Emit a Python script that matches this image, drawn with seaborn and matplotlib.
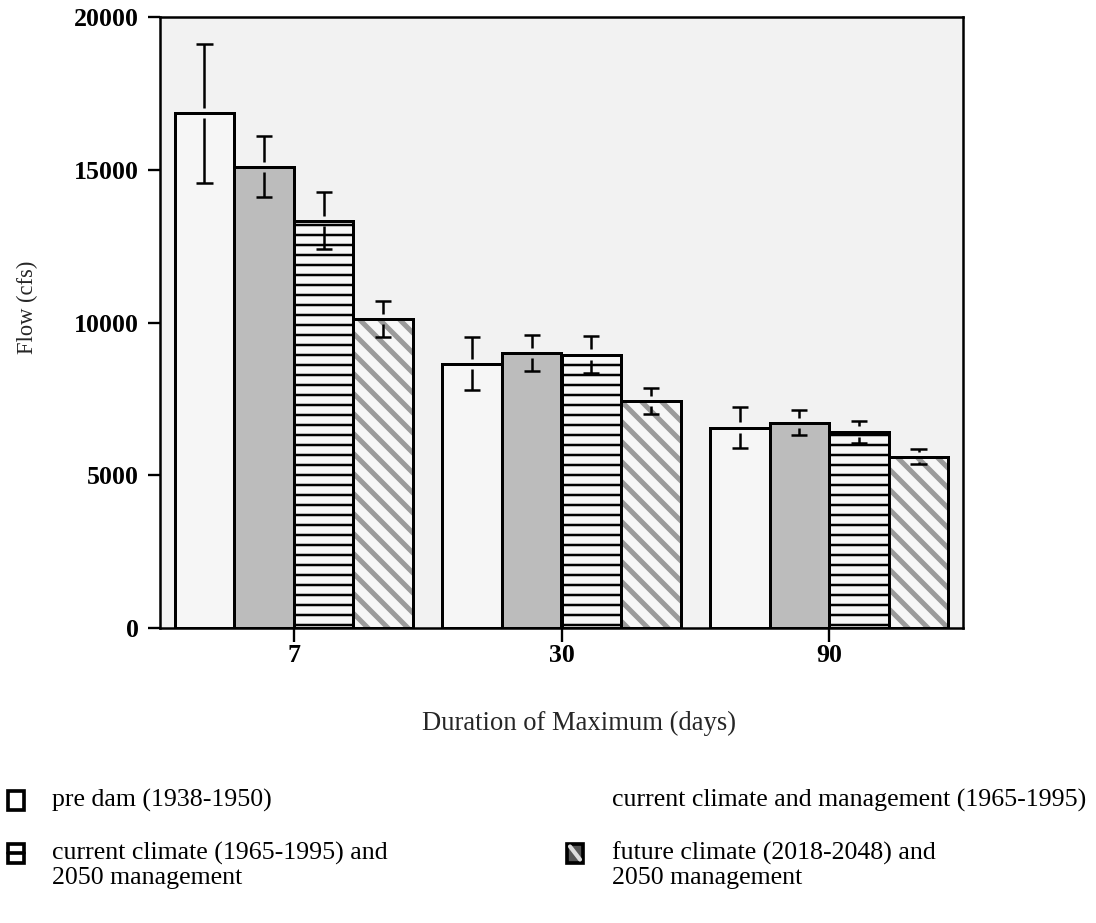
import numpy as np
import pandas as pd
import matplotlib
matplotlib.use("Agg")
import matplotlib.pyplot as plt
import matplotlib.patches as mpatches
import matplotlib.lines as mlines
import matplotlib.colors as mcolors
import seaborn as sns

# ---------------- data ----------------
durations = ["7", "30", "90"]
series = [
    "pre dam (1938-1950)",
    "current climate and management (1965-1995)",
    "current climate (1965-1995) and\n2050 management",
    "future climate (2018-2048) and\n2050 management",
]
pre_dam = [16850, 8650, 6560]
current = [15100, 9000, 6720]
mgmt_2050 = [13330, 8950, 6430]
future = [10120, 7440, 5600]

pre_dam_err = [2280, 870, 670]
current_err = [990, 590, 400]
mgmt_2050_err = [930, 600, 360]
future_err = [590, 420, 245]

yticks = [0, 5000, 10000, 15000, 20000]
ylabel = "Flow (cfs)"
xlabel = "Duration of Maximum (days)"

values = [pre_dam, current, mgmt_2050, future]
errors = [pre_dam_err, current_err, mgmt_2050_err, future_err]

df = pd.DataFrame({
    "duration": [d for s in series for d in durations],
    "series": [s for s in series for d in durations],
    "flow": [v for vals in values for v in vals],
})

# ---------------- style ----------------
sns.set_theme(style="white")
plt.rcParams["font.family"] = ["Liberation Serif", "DejaVu Serif"]
plt.rcParams["hatch.linewidth"] = 1.5

DPI = 120
fig = plt.figure(figsize=(1096 / DPI, 923 / DPI), dpi=DPI)
fig.patch.set_facecolor("white")
W, H = 1096, 923
ax = fig.add_axes([160 / W, 1 - 628 / H, (963 - 160) / W, (628 - 17) / H])
ax.set_facecolor("#f2f2f2")

sns.barplot(data=df, x="duration", y="flow", hue="series", hue_order=series,
            order=durations, width=0.89, gap=0, errorbar=None, legend=False,
            palette=["#f6f6f6"] * 4, ax=ax, saturation=1)

face = ["#f6f6f6", "#bcbcbc", "#f6f6f6", "#f6f6f6"]
hatches = [None, None, "--", "\\\\"]
hatch_col = ["black", "black", "black", "#9a9a9a"]
hatch_lw = [1.5, 1.5, 1.5, 3.0]

for i, cont in enumerate(ax.containers):
    for j, p in enumerate(cont.patches):
        p.set_facecolor(face[i])
        p.set_edgecolor("black")
        p.set_linewidth(1.8)
        p.set_zorder(2)
        if hatches[i]:
            p.set_hatch(hatches[i])
            p._hatch_color = mcolors.to_rgba(hatch_col[i])
            if hasattr(p, "set_hatch_linewidth"):
                p.set_hatch_linewidth(hatch_lw[i])
        # error bars with a small gap around the bar top
        xc = p.get_x() + p.get_width() / 2
        v = values[i][j]
        e = errors[i][j]
        gap = 170
        cw = 0.03
        kw = dict(color="black", lw=1.5, zorder=4)
        ax.vlines(xc, v + gap, v + e, **kw)
        ax.vlines(xc, v - e, v - gap, **kw)
        ax.hlines([v + e, v - e], xc - cw, xc + cw, **kw)

ax.set_xlim(-0.5, 2.5)
ax.set_ylim(0, 20000)
ax.set_yticks(yticks)
ax.set_yticklabels([str(t) for t in yticks])

for s in ax.spines.values():
    s.set_visible(True)
    s.set_color("black")
    s.set_linewidth(1.5)

ax.tick_params(axis="y", direction="out", length=7.5, width=1.4, pad=5,
               left=True, labelsize=15.5, colors="black")
ax.tick_params(axis="x", direction="out", length=8.5, width=1.4, pad=1,
               bottom=True, labelsize=15.5, colors="black")
for t in ax.get_xticklabels() + ax.get_yticklabels():
    t.set_fontweight("bold")

ax.set_xlabel(xlabel, fontsize=16)
ax.set_ylabel(ylabel, fontsize=13.5, va="center")
ax.xaxis.set_label_coords((579 - 160) / 803, -(711 - 628) / 611)
ax.yaxis.set_label_coords((27 - 160) / 803, (628 - 307) / 611)

# ---------------- legend (manual, below axes) ----------------
def fx(px):
    return px / W

def fy(py):
    return 1 - py / H

leg_x_box = [8, 8, 567, 567]
leg_x_text = [52, 52, 612, 612]
leg_y = [800, 853, 800, 853]
order = [0, 2, 1, 3]
bw, bh = 16, 19
for k, si in enumerate(order):
    bx, tx, cy = leg_x_box[k], leg_x_text[k], leg_y[k]
    if si != 1:
        fc = "#555555" if si == 3 else "white"
        r = mpatches.Rectangle((fx(bx), fy(cy + bh / 2)), bw / W, bh / H,
                               transform=fig.transFigure, facecolor=fc,
                               edgecolor="black", linewidth=2.2)
        fig.add_artist(r)
        if si == 2:
            fig.add_artist(mlines.Line2D([fx(bx), fx(bx + bw)], [fy(cy), fy(cy)],
                                         transform=fig.transFigure, color="black", lw=2.2))
        if si == 3:
            fig.add_artist(mlines.Line2D([fx(bx + 3), fx(bx + bw - 3)],
                                         [fy(cy - bh / 2 + 3), fy(cy + bh / 2 - 3)],
                                         transform=fig.transFigure, color="#dddddd", lw=2.5))
    for li, line in enumerate(series[si].split("\n")):
        fig.text(fx(tx), fy(cy + li * 25), line, fontsize=15.5, ha="left", va="center",
                 color="black")

fig.savefig("out.png", dpi=DPI, facecolor="white")
